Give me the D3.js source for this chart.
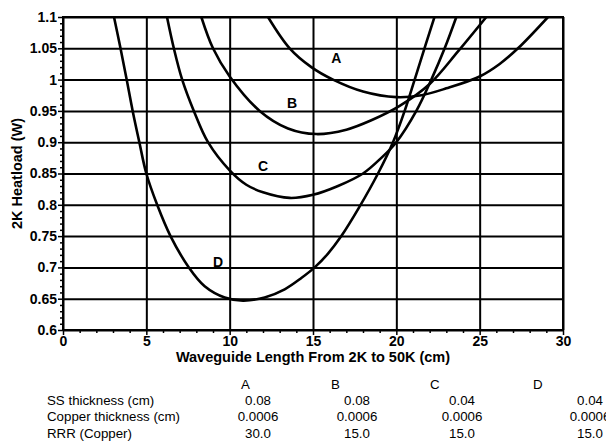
<!DOCTYPE html>
<html>
<head>
<meta charset="utf-8">
<script src="https://cdn.jsdelivr.net/npm/d3@7"></script>
<style>
body { margin: 0; background: #fff; }
svg { display: block; font-family: "Liberation Sans", Arial, sans-serif; }
.grid line { stroke: #000; stroke-width: 2; }
.grid path { display: none; }
.axis path { display: none; }
.axis line { stroke: #000; stroke-width: 1.5; }
.axis text { font-size: 14px; font-weight: bold; fill: #000; }
.curve { fill: none; stroke: #000; stroke-width: 2.6; }
</style>
</head>
<body>
<svg width="606" height="444"></svg>
<script>
var series = ["A", "B", "C", "D"];

// heatload curves (x = length in cm, y = watts)
var xA = [12.3, 13.6, 14.9, 16.2, 18.0, 20.0, 21.5, 23.0, 25.0, 26.2, 27.3, 29.1];
var yA = [1.10, 1.05, 1.02, 1.00, 0.981, 0.972, 0.975, 0.986, 1.005, 1.025, 1.05, 1.10];
var xB = [8.3, 9.0, 10.0, 11.8, 13.5, 15.2, 17.0, 18.5, 20.2, 22.0, 23.7, 25.4];
var yB = [1.10, 1.05, 1.005, 0.95, 0.922, 0.913, 0.92, 0.935, 0.958, 0.993, 1.045, 1.10];
var xC = [6.24, 6.65, 7.15, 7.85, 8.7, 10.0, 11.0, 12.0, 13.6, 15.0, 16.5, 18.0, 19.1, 20.0, 21.2, 22.1, 22.9, 23.6];
var yC = [1.10, 1.05, 1.00, 0.95, 0.90, 0.855, 0.832, 0.82, 0.811, 0.816, 0.83, 0.85, 0.875, 0.90, 0.95, 1.00, 1.05, 1.10];
var xD = [3.06, 3.45, 3.82, 4.18, 4.58, 5.0, 5.65, 6.45, 7.55, 8.5, 9.7, 10.8, 12.1, 13.3, 14.3, 15.1, 15.9, 16.7, 17.75, 18.9, 19.8, 20.5, 21.1, 21.75, 22.35];
var yD = [1.10, 1.05, 1.00, 0.95, 0.90, 0.85, 0.80, 0.75, 0.70, 0.67, 0.652, 0.647, 0.652, 0.665, 0.683, 0.70, 0.722, 0.75, 0.795, 0.85, 0.90, 0.95, 1.00, 1.055, 1.105];

// where the curve letters sit, in data units
var labelX = [16.4, 13.75, 12.0, 9.3];
var labelY = [1.035, 0.963, 0.862, 0.709];

var xTicks = [0, 5, 10, 15, 20, 25, 30];
var yTicks = [0.6, 0.65, 0.7, 0.75, 0.8, 0.85, 0.9, 0.95, 1.0, 1.05, 1.1];
var yTickLabels = ["0.6", "0.65", "0.7", "0.75", "0.8", "0.85", "0.9", "0.95", "1", "1.05", "1.1"];

// parameter table under the chart
var paramNames = ["SS thickness (cm)", "Copper thickness (cm)", "RRR (Copper)"];
var ssThick = ["0.08", "0.08", "0.04", "0.04"];
var cuThick = ["0.0006", "0.0006", "0.0006", "0.0006"];
var rrr = ["30.0", "15.0", "15.0", "15.0"];

var curves = [
  d3.zip(xA, yA), d3.zip(xB, yB), d3.zip(xC, yC), d3.zip(xD, yD)
];

var margin = {left: 63, top: 17, right: 43, bottom: 114};
var svg = d3.select("svg");
var width = 606 - margin.left - margin.right;
var height = 444 - margin.top - margin.bottom;
var g = svg.append("g")
    .attr("transform", "translate(" + margin.left + "," + margin.top + ")");

var x = d3.scaleLinear().domain([0, 30]).range([0, width]);
var y = d3.scaleLinear().domain([0.6, 1.1]).range([height, 0]);

g.append("g")
    .attr("class", "grid")
    .attr("transform", "translate(0," + height + ")")
    .call(d3.axisBottom(x).tickValues(xTicks).tickSize(-height).tickFormat(""));
g.append("g")
    .attr("class", "grid")
    .call(d3.axisLeft(y).tickValues(yTicks).tickSize(-width).tickFormat(""));

// minor ticks
g.append("g")
    .attr("class", "axis")
    .attr("transform", "translate(0," + height + ")")
    .call(d3.axisBottom(x).tickValues(d3.range(0, 31).filter(function(d) { return d % 5 != 0; }))
        .tickSize(3).tickFormat(""));
g.append("g")
    .attr("class", "axis")
    .call(d3.axisLeft(y).tickValues(d3.range(61, 110).filter(function(d) { return d % 5 != 0; })
        .map(function(d) { return d / 100; }))
        .tickSize(3).tickFormat(""));

g.append("g")
    .attr("class", "axis")
    .attr("transform", "translate(0," + height + ")")
    .call(d3.axisBottom(x).tickValues(xTicks).tickSize(5).tickPadding(1).tickFormat(d3.format("d")));
g.append("g")
    .attr("class", "axis")
    .call(d3.axisLeft(y).tickValues(yTicks).tickSize(5).tickPadding(1)
        .tickFormat(function(d, i) { return yTickLabels[i]; }));

g.append("rect")
    .attr("width", width)
    .attr("height", height)
    .attr("fill", "none")
    .attr("stroke", "#000")
    .attr("stroke-width", 2);

g.append("clipPath")
    .attr("id", "plot")
    .append("rect")
    .attr("width", width)
    .attr("height", height);

var line = d3.line()
    .curve(d3.curveCatmullRom.alpha(0.5))
    .x(function(d) { return x(d[0]); })
    .y(function(d) { return y(d[1]); });

g.append("g")
    .attr("clip-path", "url(#plot)")
    .selectAll("path")
    .data(curves)
    .enter().append("path")
    .attr("class", "curve")
    .attr("d", line);

g.selectAll(".lbl")
    .data(series)
    .enter().append("text")
    .attr("class", "lbl")
    .attr("x", function(d, i) { return x(labelX[i]); })
    .attr("y", function(d, i) { return y(labelY[i]); })
    .attr("dy", "0.36em")
    .attr("text-anchor", "middle")
    .style("font-size", "14px")
    .style("font-weight", "bold")
    .text(function(d) { return d; });

// axis titles
g.append("text")
    .attr("x", width / 2)
    .attr("y", height + 32)
    .attr("text-anchor", "middle")
    .style("font-size", "14.5px")
    .style("font-weight", "bold")
    .text("Waveguide Length From 2K to 50K (cm)");

svg.append("text")
    .attr("transform", "translate(22," + (margin.top + height / 2) + ") rotate(-90)")
    .attr("text-anchor", "middle")
    .style("font-size", "14.5px")
    .style("font-weight", "bold")
    .text("2K Heatload (W)");

// table (the last column runs off the right edge, as in the original)
var colLetter = [241, 331, 430, 533];
var colValue = [258, 357, 462, 590];
var rowY = [389, 405, 421, 438];
var rows = [ssThick, cuThick, rrr];

var table = svg.append("g").style("font-size", "13.3px");

table.selectAll(".hdr")
    .data(series)
    .enter().append("text")
    .attr("class", "hdr")
    .attr("x", function(d, i) { return colLetter[i]; })
    .attr("y", rowY[0])
    .text(function(d) { return d; });

table.selectAll(".pname")
    .data(paramNames)
    .enter().append("text")
    .attr("class", "pname")
    .attr("x", 47)
    .attr("y", function(d, i) { return rowY[i + 1]; })
    .text(function(d) { return d; });

rows.forEach(function(vals, r) {
  table.selectAll(".v" + r)
      .data(vals)
      .enter().append("text")
      .attr("class", "v" + r)
      .attr("x", function(d, i) { return colValue[i]; })
      .attr("y", rowY[r + 1])
      .attr("text-anchor", "middle")
      .text(function(d) { return d; });
});
</script>
</body>
</html>
